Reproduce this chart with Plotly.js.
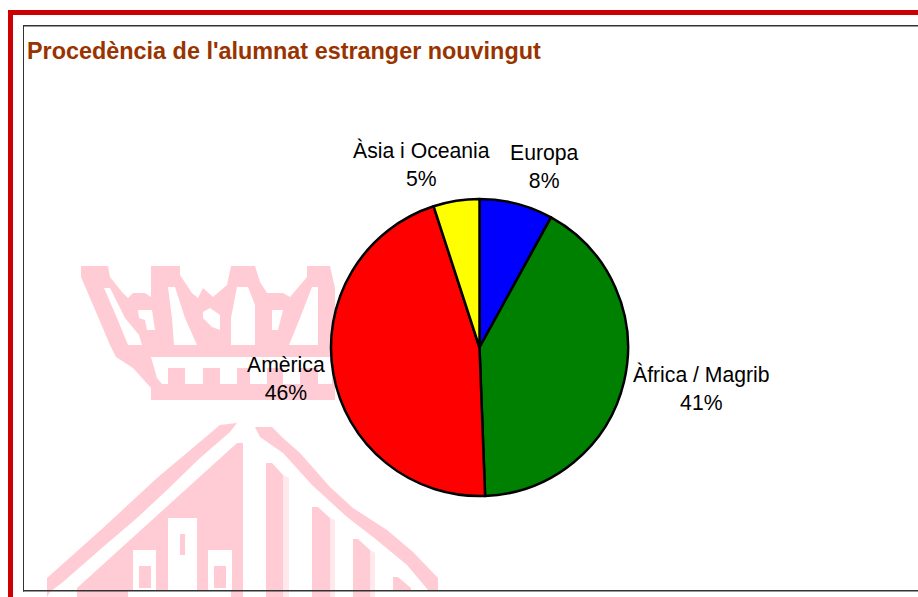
<!DOCTYPE html>
<html><head><meta charset="utf-8">
<script src="https://cdn.plot.ly/plotly-3.0.1.min.js"></script>
<style>html,body{margin:0;padding:0;background:#fff;overflow:hidden}</style>
</head><body><div id="chart" style="width:918px;height:597px"></div>
<script>
const categories=["Europa","Àfrica / Magrib","Amèrica","Àsia i Oceania"];
const values=[8,41.4,45.6,5];
const sliceColors=["#0000FF","#008000","#FF0000","#FFFF00"];
const chartTitle="Procedència de l'alumnat estranger nouvingut";
// label centres on the page, in pixels
const labelX=[544,701,286,421];
const labelY=[166,387.5,378.5,163.5];

// decorative watermark (page pixels)
const wmPink="#FFCCD5", wmPale="#FFE9ED";
const crown=[
 [[81,266],[108,266],[110,277],[122,292],[128,298],[133,293],[145,293],[151,297],[151,266],[180,266],[180,275],[192,293],[198,298],[203,288],[213,297],[227,285],[231,266],[255,266],[260,282],[267,293],[283,293],[290,297],[307,277],[307,266],[330,266],[335,288],[335,400],[151,400],[151,388],[133,368],[116,357],[110,345],[93,305],[81,277]],
 [[104,288],[110,288],[125,318],[139,335],[142,345],[128,345],[117,318]],
 [[138,310],[152,310],[155,330],[147,330],[145,320],[139,318]],
 [[168,287],[175,287],[185,318],[197,345],[174,345],[172,318]],
 [[203,312],[210,308],[220,315],[220,330],[212,327],[203,318]],
 [[237,287],[248,287],[255,305],[255,345],[231,345],[231,318]],
 [[272,310],[283,310],[278,330],[272,330]],
 [[312,287],[318,287],[318,345],[289,345],[300,318]],
 [[151,357],[332,357],[332,384],[318,384],[318,368],[300,368],[300,384],[283,384],[283,368],[267,368],[267,384],[250,384],[250,368],[237,368],[237,384],[220,384],[220,368],[203,368],[203,384],[185,384],[185,368],[168,368],[168,384],[162,384],[157,378]]
];
const building=[
 [[47,578],[103,528],[157,478],[220,425],[237,423],[230,432],[200,458],[167,490],[137,518],[103,547],[63,582],[50,592],[47,597]],
 [[237,443],[243,443],[243,597],[231,597],[231,590],[128,590],[128,597],[77,597],[77,588]],
 [[133,550],[156,550],[156,590],[133,590]],
 [[139,566],[151,566],[151,588],[139,588]],
 [[168,518],[197,518],[197,590],[168,590]],
 [[180,534],[185,534],[185,555],[180,555]],
 [[208,550],[232,550],[232,590],[208,590]],
 [[214,566],[226,566],[226,588],[214,588]],
 [[255,427],[272,427],[283,438],[300,453],[330,487],[353,508],[387,530],[413,552],[438,578],[438,590],[428,590],[407,565],[373,537],[347,517],[312,485],[283,453],[260,437]],
 [[266,463],[272,463],[283,475],[283,597],[266,597]],
 [[312,507],[318,507],[330,518],[330,597],[312,597]],
 [[353,539],[358,539],[370,550],[370,597],[353,597]],
 [[393,577],[398,577],[411,588],[411,591],[393,591]]
];
const paleStrips=[[[128,545],[133,545],[133,590],[128,590]],[[156,545],[162,545],[162,590],[156,590]],[[203,545],[208,545],[208,590],[203,590]],[[283,475],[289,478],[289,597],[283,597]],[[330,518],[335,520],[335,597],[330,597]],[[370,550],[375,553],[375,597],[370,597]]];

const W=918,H=597;
const toPath=polys=>polys.map(p=>p.map((q,i)=>(i?"L":"M")+(q[0]/W).toFixed(5)+","+(1-q[1]/H).toFixed(5)).join("")+"Z").join("");
const fillShape=(polys,c)=>({type:"path",xref:"paper",yref:"paper",path:toPath(polys),fillcolor:c,line:{width:0},layer:"below",fillrule:"evenodd"});
const rect=(x0,y0,x1,y1,c)=>({type:"rect",xref:"paper",yref:"paper",x0:x0/W,x1:x1/W,y0:1-y0/H,y1:1-y1/H,fillcolor:c,line:{width:0},layer:"below"});

const total=values.reduce((a,b)=>a+b,0);
const cx=479.5,cy=347.5,r=148.5;
Plotly.newPlot("chart",[{
  type:"pie",labels:categories,values:values,sort:false,direction:"clockwise",rotation:0,
  marker:{colors:sliceColors,line:{color:"#000",width:2.5}},
  textinfo:"none",automargin:false,showlegend:false,hoverinfo:"label+percent",
  domain:{x:[(cx-r)/W,(cx+r)/W],y:[1-(cy+r)/H,1-(cy-r)/H]}
}],{
  width:W,height:H,margin:{l:0,r:0,t:0,b:0},paper_bgcolor:"#fff",showlegend:false,
  title:{text:"<b>"+chartTitle+"</b>",x:27/W,xanchor:"left",y:1-51/H,yanchor:"middle",
    font:{family:"Liberation Sans, Arial, sans-serif",size:23.4,color:"#993300"}},
  annotations:categories.map((c,i)=>({
    xref:"paper",yref:"paper",x:labelX[i]/W,y:1-labelY[i]/H,xanchor:"center",yanchor:"middle",
    showarrow:false,align:"center",
    text:c+"<br>"+Math.round(values[i]/total*100)+"%",
    font:{family:"Liberation Sans, Arial, sans-serif",size:21.2,color:"#000"}
  })),
  shapes:[
    fillShape(paleStrips,wmPale),fillShape(crown,wmPink),fillShape(building,wmPink),
    rect(8,10,W,15,"#CC0000"),rect(8,10,13,H,"#CC0000"),
    rect(23,25,W,26.5,"#333"),rect(23,25,24,591.5,"#333"),rect(23,590,W,591.5,"#333")
  ]
},{displayModeBar:false,staticPlot:true});
</script></body></html>
